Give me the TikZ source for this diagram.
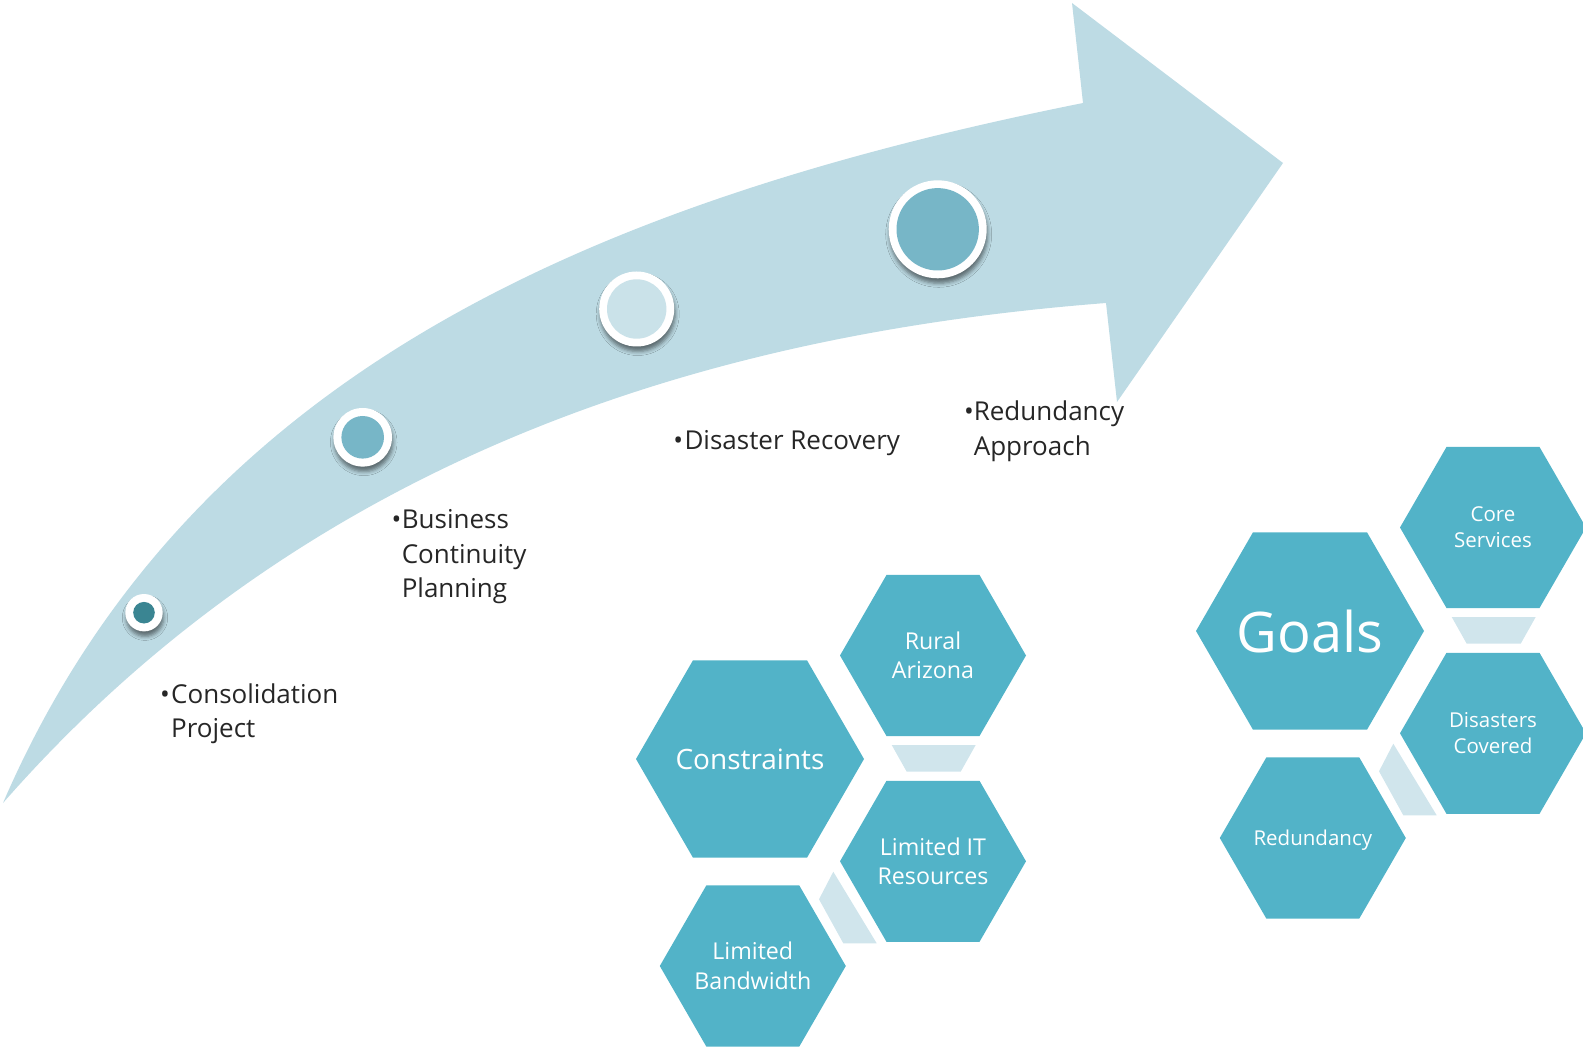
\documentclass[tikz,border=0pt]{standalone}
\usepackage{fontspec}
\setmainfont{Open Sans}
\usetikzlibrary{shadows.blur}
\definecolor{arrowblue}{HTML}{BDDBE4}
\definecolor{hexblue}{HTML}{52B3C8}
\definecolor{trapblue}{HTML}{D0E5EC}
\definecolor{dotdark}{HTML}{3A8592}
\definecolor{dotmid}{HTML}{77B6C7}
\definecolor{dotlight}{HTML}{CAE2E9}
\newcommand{\hexfill}[2]{\fill[hexblue] (#1) +(0:#2) -- +(60:#2) -- +(120:#2) -- +(180:#2) -- +(240:#2) -- +(300:#2) -- cycle;}
\newcommand{\twolines}[2]{\vtop{\hbox{#1}\hbox{#2}}}
\newcommand{\threelines}[3]{\vtop{\hbox{#1}\hbox{#2}\hbox{#3}}}
\begin{document}
\begin{tikzpicture}[x=1pt,y=-1pt,
  hextext/.style={inner sep=0pt, outer sep=0pt, text=white, align=center},
  ringnode/.style={circle, fill=white, inner sep=0pt, outer sep=0pt, minimum size=#1,
    blur shadow={shadow xshift=1pt, shadow yshift=-5pt, shadow blur radius=4pt, shadow opacity=50}},
  dotnode/.style={circle, inner sep=0pt, outer sep=0pt, minimum size=#1},
  steplabel/.style={anchor=base west, inner sep=0pt, text=black!85,
    font=\fontsize{26}{34.5}\selectfont},
  bulletmark/.style={anchor=base, inner sep=0pt, text=black!85, font=\fontsize{26}{34.5}\selectfont},
  trapfill/.style={fill=trapblue},
  smallA/.style={font=\fontsize{23.2}{29.5}\selectfont},
  smallB/.style={font=\fontsize{20.5}{26}\selectfont},
]
\useasboundingbox (0,0) rectangle (1583,1048);

% big curved arrow
\fill[arrowblue] (3,803) .. controls (190,370) and (600,200) .. (1083,103)
  -- (1072,3) -- (1283,163) -- (1117,402) -- (1106,303)
  .. controls (760,330) and (330,430) .. (3,803) -- cycle;

% milestone circles
\node[ringnode=37.4] (c1r) at (144,612.7) {};
\node[dotnode=21.6, fill=dotdark] (c1) at (c1r) {};
\node[ringnode=58.6] (c2r) at (362.7,437.3) {};
\node[dotnode=42.6, fill=dotmid] (c2) at (c2r) {};
\node[ringnode=75] (c3r) at (636.7,309) {};
\node[dotnode=59.4, fill=dotlight] (c3) at (c3r) {};
\node[ringnode=98] (c4r) at (937.7,229.3) {};
\node[dotnode=82.4, fill=dotmid] (c4) at (c4r) {};

% milestone labels
\node[steplabel] (l1) at (171,703) {\twolines{Consolidation}{Project}};
\node[bulletmark] (b1) at (165,703) {•};
\node[steplabel] (l2) at (401.6,529) {\threelines{Business}{Continuity}{Planning}};
\node[bulletmark] (b2) at (396.5,529) {•};
\node[steplabel] (l3) at (684.3,449.5) {Disaster Recovery};
\node[bulletmark] (b3) at (678.3,449.5) {•};
\node[steplabel] (l4) at (973.6,421) {\twolines{Redundancy}{Approach}};
\node[bulletmark] (b4) at (969,421) {•};

% constraints cluster
\coordinate (consC) at (750,759);
\coordinate (ruralC) at (933,655.5);
\coordinate (limitC) at (933,861.3);
\coordinate (bwC) at (752.8,966);
\hexfill{consC}{114}
\hexfill{ruralC}{93}
\hexfill{limitC}{93}
\hexfill{bwC}{93}
\node[hextext, font=\fontsize{28}{34}\selectfont] (cons) at (consC) {Constraints};
\node[hextext, smallA] (rural) at (ruralC) {Rural\\Arizona};
\node[hextext, smallA] (limit) at (limitC) {Limited IT\\Resources};
\node[hextext, smallA] (bw) at (bwC) {Limited\\Bandwidth};
\fill[trapfill] (891.7,745) -- (975.7,745) -- (960.7,771.7) -- (906.7,771.7) -- cycle;
\fill[trapfill] (833.3,871.7) -- (876.7,943.3) -- (843.3,943.3) -- (819,899.3) -- cycle;

% goals cluster
\begin{scope}[shift={(560,-128)}]
\coordinate (goalsC) at (750,759);
\coordinate (coreC) at (933,655.5);
\coordinate (disasC) at (933,861.3);
\coordinate (redunC) at (752.8,966);
\hexfill{goalsC}{114}
\hexfill{coreC}{93}
\hexfill{disasC}{93}
\hexfill{redunC}{93}
\node[hextext, font=\fontsize{56}{60}\selectfont] (goals) at (goalsC) {Goals};
\node[hextext, smallB] (core) at (coreC) {Core\\Services};
\node[hextext, smallB] (disas) at (disasC) {Disasters\\Covered};
\node[hextext, smallB, text depth=0pt] (redun) at (redunC) {Redundancy};
\fill[trapfill] (891.7,745) -- (975.7,745) -- (960.7,771.7) -- (906.7,771.7) -- cycle;
\fill[trapfill] (833.3,871.7) -- (876.7,943.3) -- (843.3,943.3) -- (819,899.3) -- cycle;
\end{scope}
\end{tikzpicture}
\end{document}
